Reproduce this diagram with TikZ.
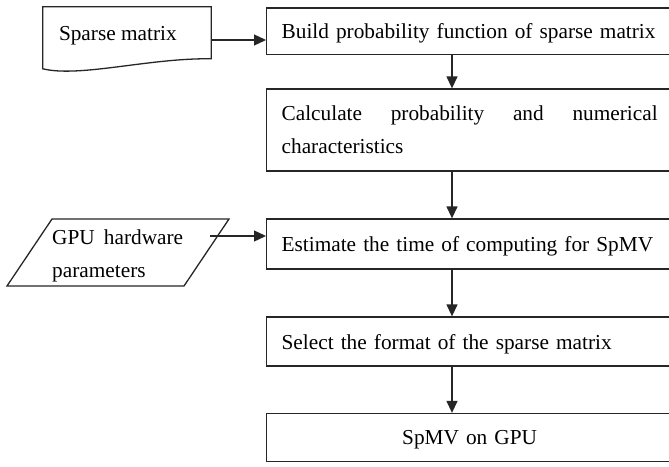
\documentclass[tikz,border=0pt]{standalone}
\usepackage{fontspec}
\setmainfont{Liberation Serif}
\usetikzlibrary{arrows.meta,calc}
\begin{document}
\begin{tikzpicture}[x=1pt,y=-1pt,
  every node/.style={font=\fontsize{21.3}{33}\selectfont},
  ln/.style={draw=black!85,line width=1.3pt},
  arr/.style={ln,-{Triangle[length=12pt,width=11pt]}},
  boxw/.style={ln,rectangle,minimum width=406pt,inner xsep=15pt,inner ysep=0pt,
    text width=376pt,align=left,anchor=west},
  oneline/.style={text depth=0pt},
  ghost/.style={draw=none,inner sep=0pt}]
\clip (0,0) rectangle (669,466);
\fill[white] (0,0) rectangle (669,466);
% process boxes
\node[boxw,oneline,minimum height=46.3pt] (box1) at (266,31.15)
  {Build probability function of sparse matrix};
\node[boxw,minimum height=82pt] (box2) at (266,130)
  {\makebox[376pt][l]{Calculate\hfill probability\hfill and\hfill numerical}\\characteristics};
\node[boxw,oneline,minimum height=50pt] (box3) at (266,244)
  {Estimate the time of computing for SpMV};
\node[boxw,oneline,minimum height=49pt] (box4) at (266,341.5)
  {Select the format of the sparse matrix};
\node[boxw,oneline,minimum height=48pt,align=center] (box5) at (266,437.5)
  {SpMV on GPU};
% document shape
\node[ghost,minimum width=168pt,minimum height=66pt] (doc) at (127,40) {};
\draw[ln] (doc.north west) -- (doc.north east) -- ($(doc.north east)+(0,52)$)
  .. controls ($(doc.north west)+(107,51)$) and ($(doc.north west)+(37,71)$) ..
  ($(doc.north west)+(0,62)$) -- cycle;
\node[anchor=base west,inner sep=0pt] (doctext) at ($(doc.north west)+(16,34)$) {Sparse matrix};
% parallelogram
\node[ghost,minimum width=222pt,minimum height=67pt] (gpu) at (118,252.5) {};
\draw[ln] ($(gpu.center)+(-66,-33.5)$) -- ($(gpu.center)+(111,-33.5)$)
  -- ($(gpu.center)+(66,33.5)$) -- ($(gpu.center)+(-111,33.5)$) -- cycle;
\node[anchor=base west,inner sep=0pt,text width=131pt,align=left] (gputext) at (52,244.5)
  {\makebox[131pt][l]{GPU\hfill hardware}\\parameters};
\coordinate (gpuout) at (210,236);
\coordinate (colx) at (452,0);
% connectors
\draw[arr] (doc.east) -- (doc.east -| box1.west);
\draw[arr] (gpuout) -- (gpuout -| box3.west);
\draw[arr] (box1.south -| colx) -- (box2.north -| colx);
\draw[arr] (box2.south -| colx) -- (box3.north -| colx);
\draw[arr] (box3.south -| colx) -- (box4.north -| colx);
\draw[arr] (box4.south -| colx) -- (box5.north -| colx);
\end{tikzpicture}
\end{document}
